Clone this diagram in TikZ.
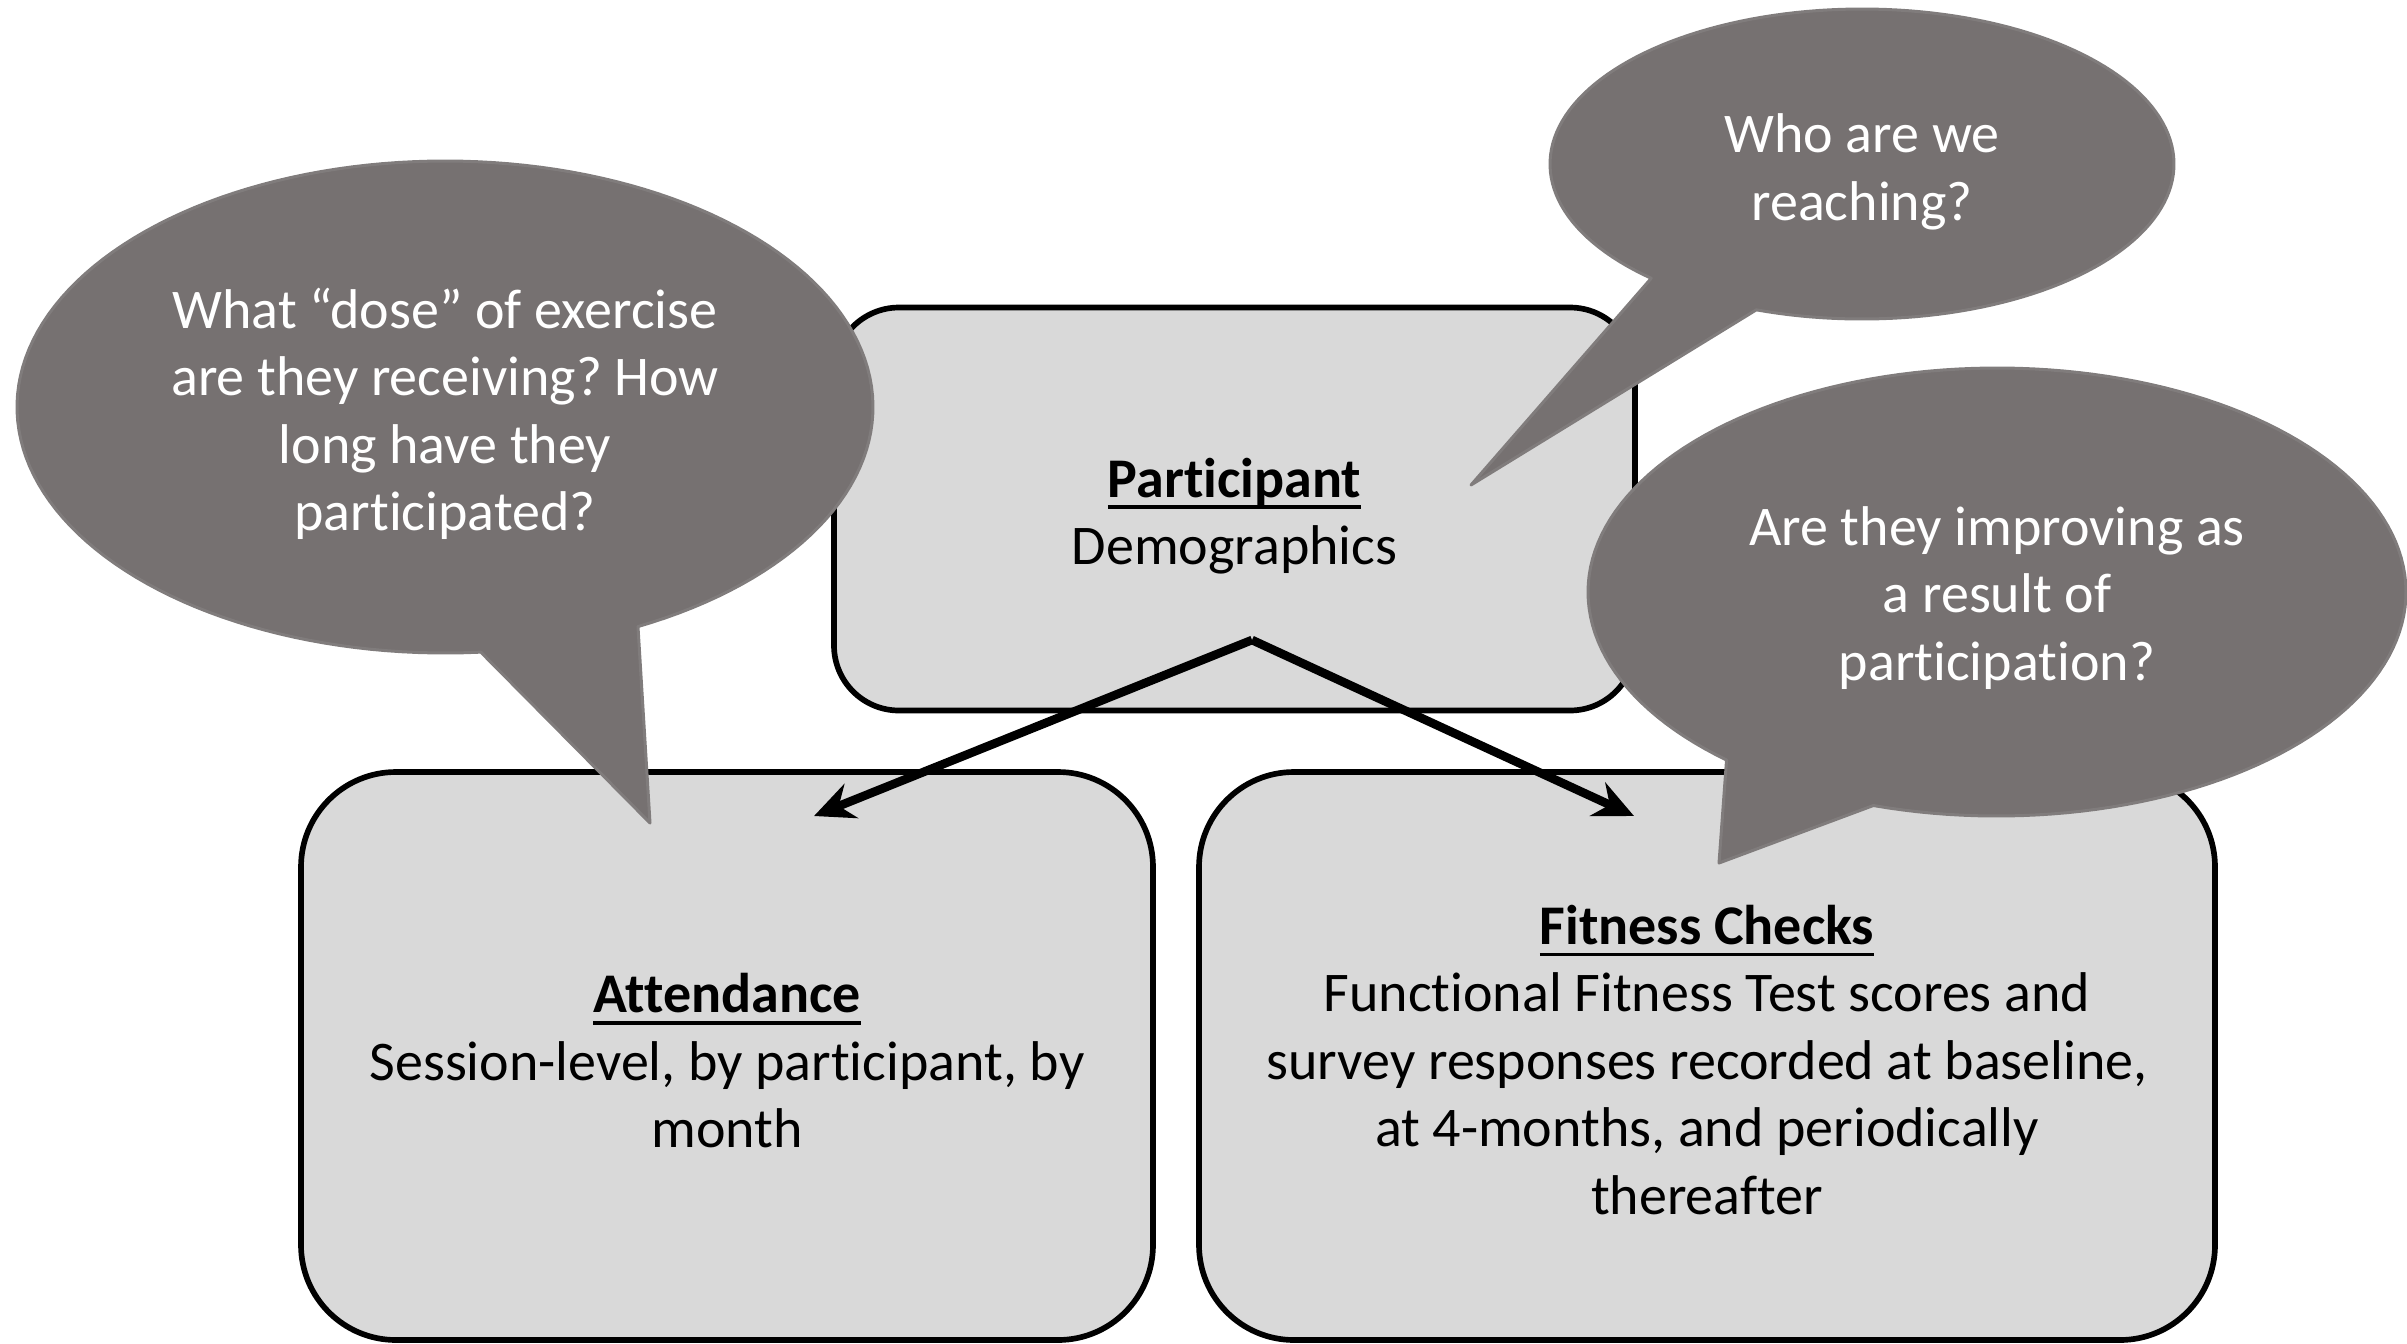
\documentclass[tikz,border=0pt]{standalone}
\usepackage{fontspec}
\setmainfont{Carlito}[Ligatures={NoCommon,NoContextual,NoRare}, Contextuals=NoAlternate, RawFeature={-liga;-calt;-dlig}]
\usetikzlibrary{arrows.meta}
\frenchspacing

\definecolor{boxfill}{HTML}{D9D9D9}
\definecolor{bubblefill}{HTML}{767171}
\definecolor{bubbleline}{HTML}{807C7C}

% bold heading with a fixed-depth underline
\newcommand\headline[1]{{\bfseries\setbox0\hbox{#1}\rlap{\rule[-0.21em]{\wd0}{0.06em}}\box0}}
\newcommand\bodyfont{\fontsize{16.8}{20.25}\selectfont\frenchspacing}

\begin{document}
\begin{tikzpicture}[x=0.3pt, y=-0.3pt,
  databox/.style={draw=black, line width=1.7pt, fill=boxfill, align=center,
    font=\bodyfont, inner sep=0pt},
  boxtext/.style={align=center, font=\bodyfont, inner sep=0pt},
  bubble/.style={fill=bubblefill, draw=bubbleline, line width=0.9pt, line join=round},
  bubbletext/.style={text=white, align=center, font=\bodyfont, inner sep=0pt},
  link/.style={line width=2.6pt, -{Stealth[length=12pt, width=11pt, inset=4pt]}}]

\useasboundingbox (0,0) rectangle (2407,1343);

% data boxes
\node[databox, rounded corners=19.5pt, minimum width=240.3pt, minimum height=120.9pt]
  (participant) at (1234.5,509) {};
\node[databox, rounded corners=28.5pt, minimum width=255.6pt, minimum height=170.4pt]
  (attendance) at (727,1056) {};
\node[databox, rounded corners=28.5pt, minimum width=304.8pt, minimum height=170.4pt]
  (fitness) at (1707,1056) {};

\node[boxtext] (participantText) at (1234.5,516) {\headline{Participant}\\Demographics};
\node[boxtext] (attendanceText) at (727,1061)
  {\headline{Attendance}\\Session-level, by participant, by\\month};
\node[boxtext] (fitnessText) at (1707,1060)
  {\headline{Fitness Checks}\\Functional Fitness Test scores and\\survey responses recorded at baseline,\\at 4-months, and periodically\\thereafter};

% links from the participant record
\coordinate (split) at (1252,640);
\coordinate (attIn) at (814,816);
\coordinate (fitIn) at (1634,816);
\draw[link] (split) -- (attIn);
\draw[link] (split) -- (fitIn);

% speech bubbles: ellipse outline plus a pointed tail
\path[bubble] plot[domain=85.2:423.2, samples=160]
  ({445+428*cos(\x)},{407+246*sin(\x)}) -- (650,823) -- cycle;
\path[bubble] plot[domain=132.5:469.8, samples=160]
  ({1862+312*cos(\x)},{164+155*sin(\x)}) -- (1471,485) -- cycle;
\path[bubble] plot[domain=131.4:467.6, samples=160]
  ({1997+409*cos(\x)},{592+224*sin(\x)}) -- (1719,863) -- cycle;

\node[bubbletext] (dose) at (445,414)
  {What “dose” of exercise\\are they receiving? How\\long have they\\participated?};
\node[bubbletext] (reach) at (1862,172) {Who are we\\reaching?};
\node[bubbletext] (improve) at (1997,598) {Are they improving as\\a result of\\participation?};

\end{tikzpicture}
\end{document}
